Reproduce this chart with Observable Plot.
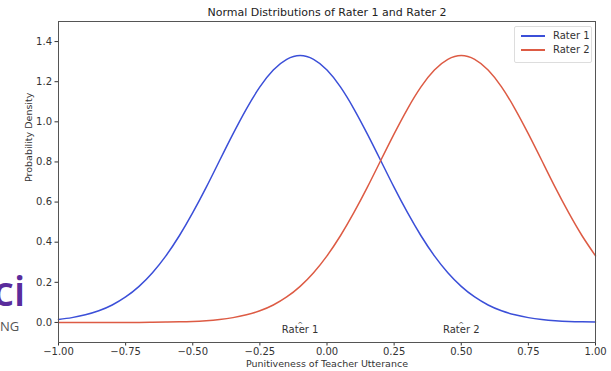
<!DOCTYPE html>
<html>
<head>
<meta charset="utf-8">
<script src="https://cdn.jsdelivr.net/npm/d3@7"></script>
<script src="https://cdn.jsdelivr.net/npm/@observablehq/plot@0.6"></script>
<style>
  body { margin: 0; background: #fff; }
  #wrap { position: relative; width: 611px; height: 371px; overflow: hidden; font-family: "DejaVu Sans", sans-serif; }
  #logo { position: absolute; left: -7px; top: 269px; font-family: "Open Sans", sans-serif; font-weight: 600; font-size: 42px; color: #5a2c9c; line-height: 1; }
  #logo2 { position: absolute; left: 0px; top: 320px; font-family: "Open Sans", sans-serif; font-size: 13px; color: #555; line-height: 1; }
  #legend { position: absolute; left: 514px; top: 26px; width: 76px; height: 35px; border: 1px solid #ddd; border-radius: 2px; background: #fff; font-size: 10px; color: #333; }
  .row { position: absolute; left: 6px; display: flex; align-items: center; }
  .sw { width: 24px; height: 2px; margin-right: 8px; }
</style>
</head>
<body>
<div id="wrap">
  <div id="chart"></div>
  <div id="legend"></div>
  <div id="logo">ci</div>
  <div id="logo2">NG</div>
</div>
<script>
const seriesNames = ["Rater 1", "Rater 2"];
const seriesColors = ["#3b4fd8", "#dd5b44"];
const xValues = [-1,-0.95,-0.9,-0.85,-0.8,-0.75,-0.7,-0.65,-0.6,-0.55,-0.5,-0.45,-0.4,-0.35,-0.3,-0.25,-0.2,-0.15,-0.1,-0.05,0,0.05,0.1,0.15,0.2,0.25,0.3,0.35,0.4,0.45,0.5,0.55,0.6,0.65,0.7,0.75,0.8,0.85,0.9,0.95,1];
const rater1 = [0.015,0.024,0.038,0.058,0.087,0.127,0.180,0.248,0.332,0.432,0.547,0.673,0.807,0.940,1.065,1.174,1.258,1.311,1.330,1.311,1.258,1.174,1.065,0.940,0.807,0.673,0.547,0.432,0.332,0.248,0.180,0.127,0.087,0.058,0.038,0.024,0.015,0.009,0.005,0.003,0.002];
const rater2 = [0.000,0.000,0.000,0.000,0.000,0.000,0.000,0.001,0.002,0.003,0.005,0.009,0.015,0.024,0.038,0.058,0.087,0.127,0.180,0.248,0.332,0.432,0.547,0.673,0.807,0.940,1.065,1.174,1.258,1.311,1.330,1.311,1.258,1.174,1.065,0.940,0.807,0.673,0.547,0.432,0.332];
const annotX = [-0.1, 0.5];
const xTicks = [-1, -0.75, -0.5, -0.25, 0, 0.25, 0.5, 0.75, 1];
const yTicks = [0, 0.2, 0.4, 0.6, 0.8, 1.0, 1.2, 1.4];
const title = "Normal Distributions of Rater 1 and Rater 2";
const xLabel = "Punitiveness of Teacher Utterance";
const yLabel = "Probability Density";

const rows = [];
xValues.forEach((x, i) => {
  rows.push({x, y: rater1[i], s: seriesNames[0]});
  rows.push({x, y: rater2[i], s: seriesNames[1]});
});
const annots = annotX.map((x, i) => ({x, y: 0, label: seriesNames[i]}));

const chart = Plot.plot({
  width: 611, height: 371,
  marginTop: 21, marginBottom: 29, marginLeft: 58, marginRight: 16,
  style: {fontFamily: "DejaVu Sans, sans-serif", fontSize: "10px", color: "#333", background: "#fff"},
  x: {domain: [-1, 1], ticks: xTicks, label: null},
  y: {domain: [-0.1, 1.5], ticks: yTicks, label: null},
  color: {domain: seriesNames, range: seriesColors},
  marks: [
    Plot.axisX({ticks: xTicks, tickFormat: d => d.toFixed(2).replace("-", "\u2212"), tickSize: 3.5, tickPadding: 2, label: null, fontSize: 10}),
    Plot.axisY({ticks: yTicks, tickFormat: d => d.toFixed(1), tickSize: 3.5, tickPadding: 3, label: null, fontSize: 10}),
    Plot.line(rows, {x: "x", y: "y", z: "s", stroke: "s", strokeWidth: 1.5, curve: "natural"}),
    Plot.text(annots, {x: "x", y: "y", text: "label", dy: 7, fontSize: 10, fill: "#333"}),
    Plot.text(annots, {x: "x", y: "y", text: () => "^", dy: 2, fontSize: 7, fill: "#333"}),
    Plot.frame({stroke: "#555"}),
    Plot.text([title], {frameAnchor: "top", dy: -13, fontSize: 11, fill: "#222"}),
    Plot.text([xLabel], {frameAnchor: "bottom", dy: 24, fontSize: 9.5, fill: "#333"}),
    Plot.text([yLabel], {frameAnchor: "left", dx: -30, rotate: -90, fontSize: 9.5, fill: "#333"})
  ]
});
document.getElementById("chart").appendChild(chart);

const lg = document.getElementById("legend");
seriesNames.forEach((n, i) => {
  const r = document.createElement("div");
  r.className = "row";
  r.style.top = (3 + i * 14) + "px";
  r.innerHTML = `<div class="sw" style="background:${seriesColors[i]}"></div><span>${n}</span>`;
  lg.appendChild(r);
});
</script>
</body>
</html>
